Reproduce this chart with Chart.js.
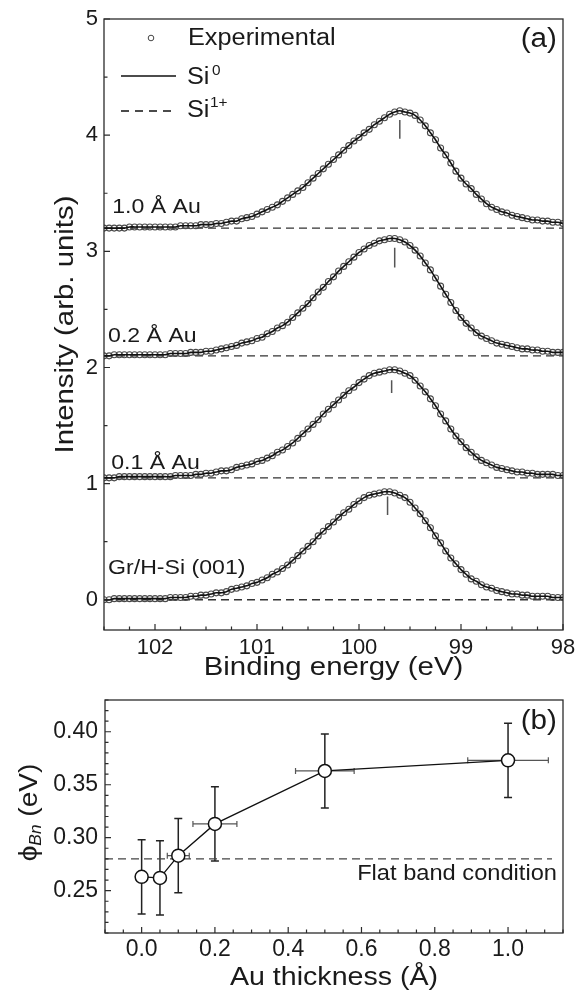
<!DOCTYPE html>
<html>
<head>
<meta charset="utf-8">
<script src="https://cdn.jsdelivr.net/npm/chart.js@4.4.0/dist/chart.umd.min.js"></script>
<style>
  html, body { margin: 0; padding: 0; background: #fff; width: 579px; height: 998px; overflow: hidden; }
  #panel-a { position: absolute; left: 0; top: 0; }
  #panel-b { position: absolute; left: 0; top: 688px; }
</style>
</head>
<body>
<canvas id="panel-a" width="579" height="688"></canvas>
<canvas id="panel-b" width="579" height="310"></canvas>
<script>
// Panel (a): espectros Si 2p
const energia = [
  102.50, 102.45, 102.40, 102.35, 102.30, 102.25, 102.20, 102.15, 102.10, 102.05,
  102.00, 101.95, 101.90, 101.85, 101.80, 101.75, 101.70, 101.65, 101.60, 101.55,
  101.50, 101.45, 101.40, 101.35, 101.30, 101.25, 101.20, 101.15, 101.10, 101.05,
  101.00, 100.95, 100.90, 100.85, 100.80, 100.75, 100.70, 100.65, 100.60, 100.55,
  100.50, 100.45, 100.40, 100.35, 100.30, 100.25, 100.20, 100.15, 100.10, 100.05,
  100.00, 99.95, 99.90, 99.85, 99.80, 99.75, 99.70, 99.65, 99.60, 99.55,
  99.50, 99.45, 99.40, 99.35, 99.30, 99.25, 99.20, 99.15, 99.10, 99.05,
  99.00, 98.95, 98.90, 98.85, 98.80, 98.75, 98.70, 98.65, 98.60, 98.55,
  98.50, 98.45, 98.40, 98.35, 98.30, 98.25, 98.20, 98.15, 98.10, 98.05,
  98.00
]

const curvaGr = [
  0.00, 0.00, 0.01, 0.01, 0.01, 0.01, 0.01, 0.01, 0.01, 0.01,
  0.01, 0.01, 0.01, 0.02, 0.02, 0.02, 0.02, 0.03, 0.03, 0.04,
  0.04, 0.05, 0.06, 0.06, 0.07, 0.09, 0.10, 0.11, 0.12, 0.14,
  0.15, 0.17, 0.19, 0.22, 0.24, 0.27, 0.30, 0.34, 0.38, 0.42,
  0.46, 0.50, 0.55, 0.59, 0.63, 0.67, 0.71, 0.75, 0.78, 0.82,
  0.85, 0.88, 0.90, 0.91, 0.92, 0.93, 0.93, 0.92, 0.90, 0.88,
  0.84, 0.79, 0.74, 0.68, 0.62, 0.55, 0.49, 0.42, 0.36, 0.31,
  0.26, 0.22, 0.18, 0.16, 0.13, 0.11, 0.10, 0.08, 0.07, 0.06,
  0.05, 0.05, 0.04, 0.04, 0.03, 0.03, 0.03, 0.03, 0.02, 0.02,
  0.02
]

const curva01 = [
  1.05, 1.05, 1.05, 1.06, 1.06, 1.06, 1.06, 1.06, 1.06, 1.06,
  1.06, 1.06, 1.06, 1.06, 1.07, 1.07, 1.07, 1.07, 1.08, 1.08,
  1.09, 1.09, 1.10, 1.11, 1.11, 1.12, 1.14, 1.15, 1.16, 1.17,
  1.19, 1.20, 1.22, 1.24, 1.27, 1.29, 1.32, 1.35, 1.39, 1.43,
  1.47, 1.51, 1.55, 1.60, 1.64, 1.68, 1.72, 1.76, 1.80, 1.83,
  1.87, 1.90, 1.93, 1.95, 1.96, 1.97, 1.98, 1.98, 1.97, 1.95,
  1.93, 1.89, 1.84, 1.79, 1.73, 1.67, 1.60, 1.54, 1.47, 1.41,
  1.36, 1.31, 1.27, 1.23, 1.20, 1.18, 1.16, 1.14, 1.13, 1.12,
  1.11, 1.10, 1.10, 1.09, 1.09, 1.08, 1.08, 1.08, 1.08, 1.07,
  1.07
]

const curva02 = [
  2.10, 2.10, 2.11, 2.11, 2.11, 2.11, 2.11, 2.11, 2.11, 2.11,
  2.11, 2.11, 2.11, 2.12, 2.12, 2.12, 2.12, 2.13, 2.13, 2.13,
  2.14, 2.14, 2.15, 2.16, 2.17, 2.18, 2.19, 2.21, 2.22, 2.23,
  2.25, 2.26, 2.29, 2.31, 2.34, 2.36, 2.39, 2.43, 2.47, 2.51,
  2.55, 2.60, 2.65, 2.69, 2.74, 2.78, 2.83, 2.87, 2.91, 2.95,
  2.99, 3.02, 3.05, 3.07, 3.09, 3.10, 3.11, 3.11, 3.10, 3.08,
  3.05, 3.01, 2.96, 2.90, 2.84, 2.77, 2.70, 2.63, 2.56, 2.49,
  2.43, 2.38, 2.34, 2.30, 2.27, 2.25, 2.23, 2.21, 2.20, 2.19,
  2.18, 2.17, 2.16, 2.16, 2.15, 2.15, 2.14, 2.14, 2.13, 2.13,
  2.13
]

const curva10 = [
  3.20, 3.20, 3.20, 3.20, 3.20, 3.21, 3.21, 3.21, 3.21, 3.21,
  3.21, 3.21, 3.21, 3.21, 3.21, 3.22, 3.22, 3.22, 3.22, 3.23,
  3.23, 3.23, 3.24, 3.24, 3.25, 3.26, 3.26, 3.28, 3.29, 3.30,
  3.32, 3.34, 3.36, 3.38, 3.40, 3.43, 3.46, 3.49, 3.52, 3.55,
  3.59, 3.63, 3.67, 3.71, 3.75, 3.79, 3.83, 3.87, 3.91, 3.95,
  3.98, 4.02, 4.05, 4.09, 4.12, 4.15, 4.18, 4.20, 4.21, 4.20,
  4.19, 4.17, 4.13, 4.08, 4.02, 3.96, 3.89, 3.83, 3.76, 3.69,
  3.63, 3.58, 3.54, 3.49, 3.45, 3.41, 3.38, 3.36, 3.34, 3.33,
  3.31, 3.30, 3.29, 3.28, 3.27, 3.27, 3.26, 3.26, 3.25, 3.25,
  3.24
]

// componente Si1+ (casi plana, en la linea base de cada espectro)
const si1Nivel = [0.00, 1.05, 2.10, 3.20]
const si1Extremos = [102.5, 98.0]

// marcas verticales de la posicion del pico
const picoE = [99.72, 99.68, 99.65, 99.60]
const picoArriba = [0.89, 1.89, 3.03, 4.13]
const picoAbajo = [0.73, 1.78, 2.86, 3.97]

const etiquetasCurva = ['Gr/H-Si (001)', '0.1 Å Au', '0.2 Å Au', '1.0 Å Au']
const ticksXa = [102, 101, 100, 99, 98]
const ticksYa = [0, 1, 2, 3, 4, 5]

// Panel (b): barrera Schottky
const espesor = [0.0, 0.05, 0.1, 0.2, 0.5, 1.0]
const phiBn = [0.263, 0.262, 0.283, 0.313, 0.363, 0.373]
const errPhi = [0.035, 0.035, 0.035, 0.035, 0.035, 0.035]
const errEspesor = [0, 0.01, 0.03, 0.06, 0.08, 0.11]
const bandaPlana = 0.28
const bandaPlanaX = [-0.1, 1.12]
const ticksXb = [0.0, 0.2, 0.4, 0.6, 0.8, 1.0]
const ticksYb = [0.25, 0.30, 0.35, 0.40]

const FUENTE = '"Liberation Sans", Arial, sans-serif'
const TINTA = '#1a1a1a'

function texto(ctx, s, x, y, tam, alin, sx, rotar) {
  ctx.save()
  ctx.translate(x, y)
  if (rotar) ctx.rotate(-Math.PI / 2)
  ctx.scale(sx || 1, 1)
  ctx.font = tam + 'px ' + FUENTE
  ctx.fillStyle = TINTA
  ctx.textAlign = alin
  ctx.textBaseline = 'middle'
  ctx.fillText(s, 0, 0)
  ctx.restore()
}

function marco(ctx, a) {
  ctx.save()
  ctx.strokeStyle = '#2b2b2b'
  ctx.lineWidth = 1.3
  ctx.strokeRect(a.left, a.top, a.right - a.left, a.bottom - a.top)
  ctx.restore()
}

// marcas de division hacia adentro, mayores y menores
function marcas(chart, eje, mayores, paso) {
  const sc = chart.scales[eje], a = chart.chartArea, ctx = chart.ctx
  const lo = Math.min(sc.min, sc.max), hi = Math.max(sc.min, sc.max)
  ctx.save()
  ctx.strokeStyle = '#2b2b2b'
  ctx.lineWidth = 1.2
  ctx.beginPath()
  for (let k = Math.ceil(lo / paso - 1e-6); k * paso <= hi + 1e-9; k++) {
    const v = k * paso
    const mayor = mayores.some(m => Math.abs(m - v) < 1e-6)
    const l = mayor ? 6 : 3.5
    const p = sc.getPixelForValue(v)
    if (eje === 'x') { ctx.moveTo(p, a.bottom); ctx.lineTo(p, a.bottom - l) }
    else { ctx.moveTo(a.left, p); ctx.lineTo(a.left + l, p) }
  }
  ctx.stroke()
  ctx.restore()
}

// posiciones de las etiquetas de cada espectro (en unidades de datos)
const posEtiqueta = [[102.46, 0.275], [102.43, 1.18], [102.46, 2.27], [102.42, 3.38]]

const pluginA = {
  id: 'ejesA',
  afterDraw(chart) {
    const ctx = chart.ctx, a = chart.chartArea, sx = chart.scales.x, sy = chart.scales.y
    marco(ctx, a)
    marcas(chart, 'x', ticksXa, 0.25)
    marcas(chart, 'y', ticksYa, 0.5)
    ticksXa.forEach(v => texto(ctx, String(v), sx.getPixelForValue(v), a.bottom + 18, 22, 'center', 1))
    ticksYa.forEach(v => texto(ctx, String(v), a.left - 6, sy.getPixelForValue(v), 22, 'right', 1))
    texto(ctx, 'Binding energy (eV)', (a.left + a.right) / 2, a.bottom + 38, 26, 'center', 1.13)
    texto(ctx, 'Intensity (arb. units)', 66, (a.top + a.bottom) / 2, 26, 'center', 1.13, true)
    texto(ctx, '(a)', a.right - 6, a.top + 21, 27, 'right', 1.1)

    // leyenda
    ctx.save()
    ctx.strokeStyle = '#444'
    ctx.lineWidth = 1
    ctx.beginPath()
    ctx.arc(151, 38, 2.8, 0, 2 * Math.PI)
    ctx.stroke()
    ctx.strokeStyle = '#111'
    ctx.lineWidth = 1.5
    ctx.beginPath()
    ctx.moveTo(121, 76); ctx.lineTo(176, 76)
    ctx.stroke()
    ctx.setLineDash([8, 6])
    ctx.beginPath()
    ctx.moveTo(121, 111); ctx.lineTo(176, 111)
    ctx.stroke()
    ctx.restore()
    texto(ctx, 'Experimental', 188, 39, 23, 'left', 1.1)
    texto(ctx, 'Si', 187, 78, 23, 'left', 1.1)
    texto(ctx, '0', 212, 71, 14, 'left', 1.1)
    texto(ctx, 'Si', 187, 111, 23, 'left', 1.1)
    texto(ctx, '1+', 210, 103, 14, 'left', 1.1)

    etiquetasCurva.forEach((t, i) => {
      texto(ctx, t, sx.getPixelForValue(posEtiqueta[i][0]), sy.getPixelForValue(posEtiqueta[i][1]), 21, 'left', 1.1)
    })
  }
}

const curvas = [curvaGr, curva01, curva02, curva10]
const datasetsA = []
curvas.forEach((c, i) => {
  datasetsA.push({
    data: energia.map((e, j) => ({ x: e, y: c[j] })),
    showLine: false, pointRadius: 3, pointBorderWidth: 1.1,
    pointBorderColor: '#4a4a4a', pointBackgroundColor: 'rgba(255,255,255,0)', order: 3
  })
  datasetsA.push({
    data: energia.map((e, j) => ({ x: e, y: c[j] })),
    showLine: true, borderColor: '#111', borderWidth: 1.6, pointRadius: 0, tension: 0.2, order: 2
  })
  datasetsA.push({
    data: si1Extremos.map(e => ({ x: e, y: si1Nivel[i] })),
    showLine: true, borderColor: '#333', borderWidth: 1.4, borderDash: [8, 5], pointRadius: 0, order: 4
  })
  datasetsA.push({
    data: [{ x: picoE[i], y: picoArriba[i] }, { x: picoE[i], y: picoAbajo[i] }],
    showLine: true, borderColor: '#555', borderWidth: 1.5, pointRadius: 0, order: 1
  })
})

new Chart(document.getElementById('panel-a'), {
  type: 'scatter',
  data: { datasets: datasetsA },
  options: {
    responsive: false, animation: false, devicePixelRatio: 1,
    layout: { padding: { left: 104, right: 16, top: 19, bottom: 58 } },
    scales: {
      x: { type: 'linear', min: 98, max: 102.5, reverse: true, display: false },
      y: { type: 'linear', min: -0.26, max: 5, display: false }
    },
    plugins: { legend: { display: false }, tooltip: { enabled: false } }
  },
  plugins: [pluginA]
})

// Panel (b)
const pluginB = {
  id: 'ejesB',
  beforeDatasetsDraw(chart) {
    const ctx = chart.ctx, sx = chart.scales.x, sy = chart.scales.y
    ctx.save()
    espesor.forEach((t, i) => {
      const px = sx.getPixelForValue(t), py = sy.getPixelForValue(phiBn[i])
      const y1 = sy.getPixelForValue(phiBn[i] + errPhi[i]), y2 = sy.getPixelForValue(phiBn[i] - errPhi[i])
      ctx.strokeStyle = '#222'
      ctx.lineWidth = 1.5
      ctx.beginPath()
      ctx.moveTo(px, y1); ctx.lineTo(px, y2)
      ctx.moveTo(px - 4, y1); ctx.lineTo(px + 4, y1)
      ctx.moveTo(px - 4, y2); ctx.lineTo(px + 4, y2)
      ctx.stroke()
      if (errEspesor[i] > 0) {
        const x1 = sx.getPixelForValue(t - errEspesor[i]), x2 = sx.getPixelForValue(t + errEspesor[i])
        ctx.strokeStyle = '#555'
        ctx.lineWidth = 1.2
        ctx.beginPath()
        ctx.moveTo(x1, py); ctx.lineTo(x2, py)
        ctx.moveTo(x1, py - 3); ctx.lineTo(x1, py + 3)
        ctx.moveTo(x2, py - 3); ctx.lineTo(x2, py + 3)
        ctx.stroke()
      }
    })
    ctx.restore()
  },
  afterDraw(chart) {
    const ctx = chart.ctx, a = chart.chartArea, sx = chart.scales.x, sy = chart.scales.y
    marco(ctx, a)
    marcas(chart, 'x', ticksXb, 0.05)
    marcas(chart, 'y', ticksYb, 0.01)
    ticksXb.forEach(v => texto(ctx, v.toFixed(1), sx.getPixelForValue(v), a.bottom + 17, 23, 'center', 1))
    ticksYb.forEach(v => texto(ctx, v.toFixed(2), a.left - 7, sy.getPixelForValue(v), 23, 'right', 1))
    texto(ctx, 'Au thickness (Å)', (a.left + a.right) / 2, a.bottom + 45, 26, 'center', 1.1)
    texto(ctx, '(b)', a.right - 6, a.top + 22, 27, 'right', 1.1)
    texto(ctx, 'Flat band condition', a.right - 6, sy.getPixelForValue(bandaPlana) + 15, 21.5, 'right', 1.1)

    // titulo del eje y: phi_Bn (eV)
    ctx.save()
    ctx.translate(30, (a.top + a.bottom) / 2 - 4)
    ctx.rotate(-Math.PI / 2)
    ctx.scale(1.08, 1)
    ctx.fillStyle = TINTA
    ctx.textBaseline = 'middle'
    ctx.textAlign = 'left'
    ctx.font = '26px ' + FUENTE
    const w1 = ctx.measureText('ϕ').width
    ctx.font = 'italic 16px ' + FUENTE
    const w2 = ctx.measureText('Bn').width
    ctx.font = '26px ' + FUENTE
    const w3 = ctx.measureText(' (eV)').width
    const x0 = -(w1 + w2 + w3) / 2
    ctx.fillText('ϕ', x0, 0)
    ctx.font = 'italic 16px ' + FUENTE
    ctx.fillText('Bn', x0 + w1, 7)
    ctx.font = '26px ' + FUENTE
    ctx.fillText(' (eV)', x0 + w1 + w2, 0)
    ctx.restore()
  }
}

new Chart(document.getElementById('panel-b'), {
  type: 'scatter',
  data: {
    datasets: [
      {
        data: espesor.map((t, i) => ({ x: t, y: phiBn[i] })),
        showLine: true, borderColor: '#111', borderWidth: 1.3,
        pointRadius: 6.5, pointBorderWidth: 1.5, pointBorderColor: '#111', pointBackgroundColor: '#fff', order: 1
      },
      {
        data: bandaPlanaX.map(t => ({ x: t, y: bandaPlana })),
        showLine: true, borderColor: '#444', borderWidth: 1.3, borderDash: [8, 5], pointRadius: 0, order: 2
      }
    ]
  },
  options: {
    responsive: false, animation: false, devicePixelRatio: 1,
    layout: { padding: { left: 105, right: 16, top: 12, bottom: 65 } },
    scales: {
      x: { type: 'linear', min: -0.1, max: 1.15, display: false },
      y: { type: 'linear', min: 0.21, max: 0.43, display: false }
    },
    plugins: { legend: { display: false }, tooltip: { enabled: false } }
  },
  plugins: [pluginB]
})
</script>
</body>
</html>
